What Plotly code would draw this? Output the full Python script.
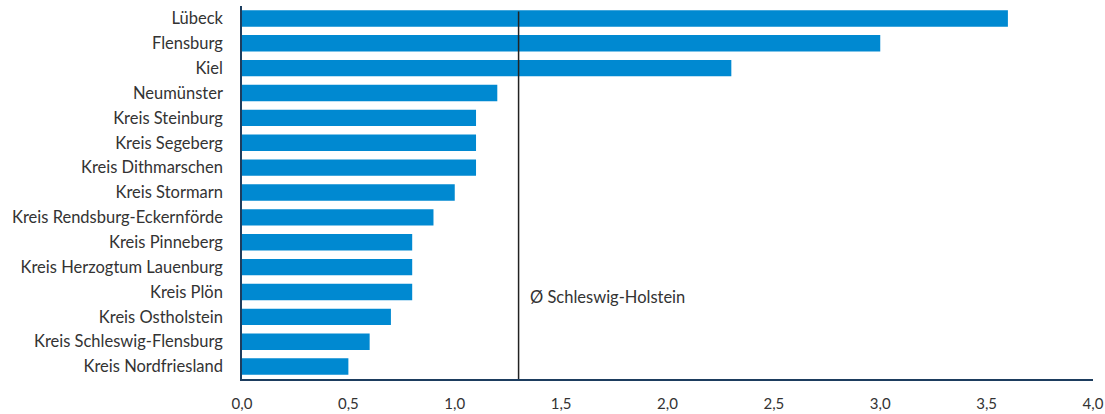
import plotly.graph_objects as go

categories = ["Lübeck", "Flensburg", "Kiel", "Neumünster", "Kreis Steinburg", "Kreis Segeberg",
              "Kreis Dithmarschen", "Kreis Stormarn", "Kreis Rendsburg-Eckernförde", "Kreis Pinneberg",
              "Kreis Herzogtum Lauenburg", "Kreis Plön", "Kreis Ostholstein", "Kreis Schleswig-Flensburg",
              "Kreis Nordfriesland"]
values = [3.6, 3.0, 2.3, 1.2, 1.1, 1.1, 1.1, 1.0, 0.9, 0.8, 0.8, 0.8, 0.7, 0.6, 0.5]
average_value = 1.3
average_label = "Ø Schleswig-Holstein"
tick_values = [0, 0.5, 1.0, 1.5, 2.0, 2.5, 3.0, 3.5, 4.0]
tick_labels = ["0,0", "0,5", "1,0", "1,5", "2,0", "2,5", "3,0", "3,5", "4,0"]

FONT = "Lato, Open Sans, sans-serif"
FS = 16.5

fig = go.Figure()
fig.add_trace(go.Bar(
    x=values, y=categories, orientation="h",
    marker=dict(color="#0089D1", line=dict(width=0)),
    width=0.66,
))

fig.add_shape(type="line", x0=average_value, x1=average_value, xref="x",
              y0=0.0, y1=0.985, yref="paper",
              line=dict(color="#222222", width=1.5))

fig.add_annotation(x=average_value, y="Kreis Plön", xref="x", yref="y",
                   text=average_label, showarrow=False, xanchor="left",
                   xshift=9, yshift=-5, font=dict(size=FS, color="#333333"))

fig.update_layout(
    width=1105, height=414,
    margin=dict(l=242, r=12, t=6, b=35),
    plot_bgcolor="white", paper_bgcolor="white",
    font=dict(family=FONT, size=FS, color="#333333"),
    showlegend=False,
    bargap=0.34,
)
fig.update_xaxes(range=[0, 4.0], tickvals=tick_values, ticktext=tick_labels,
                 automargin=False,
                 showgrid=False, zeroline=False, showline=True,
                 linecolor="#1d3d5e", linewidth=1.5,
                 ticks="outside", ticklen=10, tickcolor="rgba(0,0,0,0)",
                 tickfont=dict(size=15, color="#333333"))
fig.update_yaxes(categoryorder="array", categoryarray=categories[::-1],
                 automargin=False,
                 showgrid=False, zeroline=False, showline=True,
                 linecolor="#1d3d5e", linewidth=1.5,
                 ticks="outside", ticklen=14, tickcolor="rgba(0,0,0,0)",
                 tickfont=dict(size=FS, color="#333333"))

fig.write_html("out.html", config={"displayModeBar": False},
               post_script="document.body.style.margin='0';document.body.style.overflow='hidden';")
